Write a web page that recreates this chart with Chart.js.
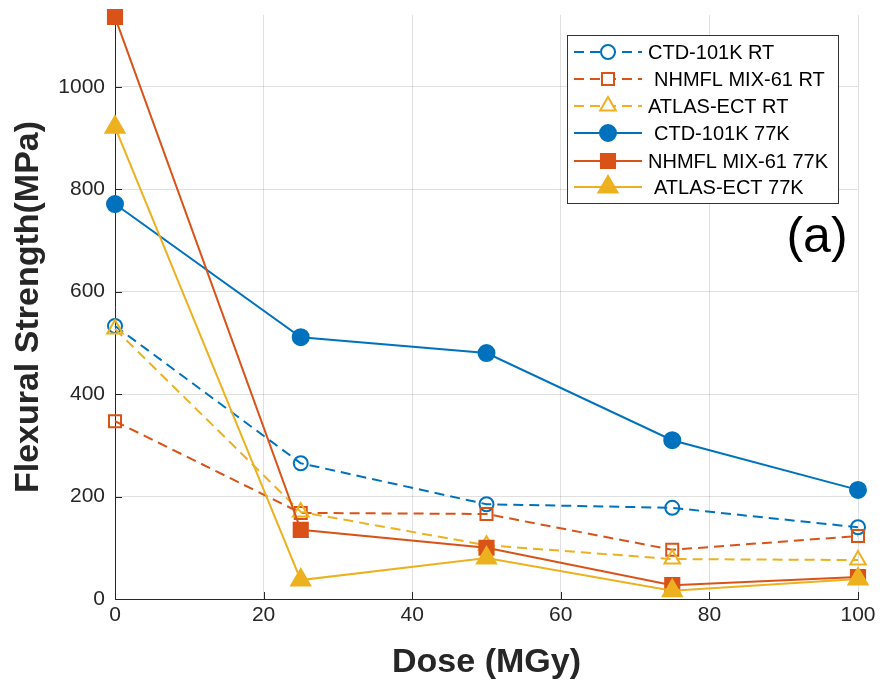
<!DOCTYPE html>
<html>
<head>
<meta charset="utf-8">
<script src="https://cdn.jsdelivr.net/npm/chart.js@4.4.0/dist/chart.umd.min.js"></script>
<style>
  html, body { margin: 0; padding: 0; background: #fff; }
  #wrap { width: 880px; height: 683px; }
</style>
</head>
<body>
<div id="wrap"><canvas id="myChart" width="880" height="683"></canvas></div>
<script>
// dose values (MGy)
var doses = [0, 25, 50, 75, 100];

// flexural strength (MPa)
var ctdRT = [533, 265, 185, 178, 140];
var nhmflRT = [347, 168, 166, 96, 123];
var atlasRT = [527, 170, 105, 78, 76];
var ctd77 = [771, 511, 480, 310, 213];
var nhmfl77 = [1136, 135, 100, 27, 43];
var atlas77 = [921, 37, 80, 16, 39];

var seriesNames = ['CTD-101K RT', 'NHMFL MIX-61 RT', 'ATLAS-ECT RT', 'CTD-101K 77K', 'NHMFL MIX-61 77K', 'ATLAS-ECT 77K'];
var xTicks = [0, 20, 40, 60, 80, 100];
var yTicks = [0, 200, 400, 600, 800, 1000];

var blue = '#0072BD';
var orange = '#D95319';
var yellow = '#EDB120';
var textColor = '#262626';
var fontName = '"Liberation Sans", Arial, Helvetica, sans-serif';

function pts(vals) {
    return doses.map(function (d, i) { return { x: d, y: vals[i] }; });
}

var styles = [
    { color: blue, shape: 'circle', open: true, r: 7 },
    { color: orange, shape: 'rect', open: true, r: 8.5 },
    { color: yellow, shape: 'triangle', open: true, r: 9 },
    { color: blue, shape: 'circle', open: false, r: 8 },
    { color: orange, shape: 'rect', open: false, r: 10 },
    { color: yellow, shape: 'triangle', open: false, r: 11 }
];
var allValues = [ctdRT, nhmflRT, atlasRT, ctd77, nhmfl77, atlas77];

var datasets = allValues.map(function (vals, i) {
    var s = styles[i];
    return {
        label: seriesNames[i],
        data: pts(vals),
        borderColor: s.color,
        backgroundColor: s.open ? 'rgba(255,255,255,0)' : s.color,
        pointBorderColor: s.color,
        pointBackgroundColor: s.open ? 'rgba(255,255,255,0)' : s.color,
        pointStyle: s.shape,
        pointRadius: s.r,
        pointBorderWidth: 2,
        borderWidth: 2,
        borderDash: s.open ? [10, 6] : [],
        tension: 0,
        fill: false,
        clip: false,
        order: 5 - i
    };
});

// draws a marker shape for the legend (same geometry as chart.js point styles)
function marker(ctx, s, x, y) {
    ctx.save();
    ctx.setLineDash([]);
    ctx.lineWidth = 2;
    ctx.strokeStyle = s.color;
    ctx.fillStyle = s.open ? '#fff' : s.color;
    ctx.beginPath();
    if (s.shape === 'circle') {
        ctx.arc(x, y, s.r, 0, Math.PI * 2);
    } else if (s.shape === 'rect') {
        var h = s.r * Math.SQRT1_2;
        ctx.rect(x - h, y - h, h * 2, h * 2);
    } else {
        var r = s.r;
        ctx.moveTo(x, y - r);
        ctx.lineTo(x + r * 0.866, y + r * 0.5);
        ctx.lineTo(x - r * 0.866, y + r * 0.5);
        ctx.closePath();
    }
    ctx.fill();
    ctx.stroke();
    ctx.restore();
}

var extras = {
    id: 'extras',
    afterDraw: function (chart) {
        var ctx = chart.ctx;
        var xs = chart.scales.x, ys = chart.scales.y;
        var area = chart.chartArea;
        ctx.save();
        // inward tick marks
        ctx.strokeStyle = textColor;
        ctx.lineWidth = 1;
        xTicks.forEach(function (t) {
            var px = Math.round(xs.getPixelForValue(t)) + 0.5;
            ctx.beginPath();
            ctx.moveTo(px, area.bottom);
            ctx.lineTo(px, area.bottom - 7);
            ctx.stroke();
        });
        yTicks.forEach(function (t) {
            var py = Math.round(ys.getPixelForValue(t)) + 0.5;
            ctx.beginPath();
            ctx.moveTo(area.left, py);
            ctx.lineTo(area.left + 7, py);
            ctx.stroke();
        });

        // legend box
        var bx = 567, by = 35, bw = 271, bh = 168;
        ctx.fillStyle = '#fff';
        ctx.fillRect(bx, by, bw, bh);
        ctx.strokeStyle = '#333';
        ctx.lineWidth = 1;
        ctx.strokeRect(bx + 0.5, by + 0.5, bw, bh);
        var rowY = [52, 79, 106, 133, 161, 187];
        var textX = [648, 654, 648, 654, 648, 654];
        ctx.font = '20px ' + fontName;
        ctx.textBaseline = 'middle';
        ctx.textAlign = 'left';
        styles.forEach(function (s, i) {
            var y = rowY[i];
            ctx.strokeStyle = s.color;
            ctx.lineWidth = 2;
            ctx.setLineDash(s.open ? [10, 6] : []);
            ctx.beginPath();
            ctx.moveTo(574, y);
            ctx.lineTo(642, y);
            ctx.stroke();
            ctx.setLineDash([]);
            marker(ctx, s, 608, y);
            ctx.fillStyle = '#000';
            ctx.fillText(seriesNames[i], textX[i], y + 1);
        });

        // panel label
        ctx.fillStyle = '#000';
        ctx.font = '50px ' + fontName;
        ctx.textAlign = 'center';
        ctx.fillText('(a)', 817, 238);
        ctx.restore();
    }
};

var ctx = document.getElementById('myChart').getContext('2d');
var myChart = new Chart(ctx, {
    type: 'line',
    data: { datasets: datasets },
    options: {
        responsive: false,
        animation: false,
        layout: { padding: { top: 15, right: 22, left: 0, bottom: 0 } },
        plugins: {
            legend: { display: false },
            tooltip: { enabled: false }
        },
        scales: {
            x: {
                type: 'linear',
                min: 0,
                max: 100,
                afterBuildTicks: function (axis) {
                    axis.ticks = xTicks.map(function (v) { return { value: v }; });
                },
                afterFit: function (axis) {
                    axis.height = 84;
                    axis.paddingRight = 0;
                    axis.paddingLeft = 0;
                },
                ticks: {
                    color: textColor, font: { size: 21, family: fontName }, padding: 4, maxRotation: 0,
                    callback: function (v) { return String(v); }
                },
                grid: { color: 'rgba(0,0,0,0.12)', drawTicks: false },
                border: { display: true, color: textColor, width: 1 },
                title: {
                    display: true,
                    text: 'Dose (MGy)',
                    color: textColor,
                    font: { size: 34, weight: 'bold', family: fontName },
                    padding: { top: 0, bottom: 0 }
                }
            },
            y: {
                min: 0,
                max: 1140,
                afterBuildTicks: function (axis) {
                    axis.ticks = yTicks.map(function (v) { return { value: v }; });
                },
                afterFit: function (axis) {
                    axis.width = 115;
                    axis.paddingTop = 0;
                    axis.paddingBottom = 0;
                },
                ticks: {
                    color: textColor, font: { size: 21, family: fontName }, padding: 10,
                    callback: function (v) { return String(v); }
                },
                grid: { color: 'rgba(0,0,0,0.12)', drawTicks: false },
                border: { display: true, color: textColor, width: 1 },
                title: {
                    display: true,
                    text: 'Flexural Strength(MPa)',
                    color: textColor,
                    font: { size: 34, weight: 'bold', family: fontName },
                    padding: { top: 8, bottom: 0 }
                }
            }
        }
    },
    plugins: [extras]
});
</script>
</body>
</html>
